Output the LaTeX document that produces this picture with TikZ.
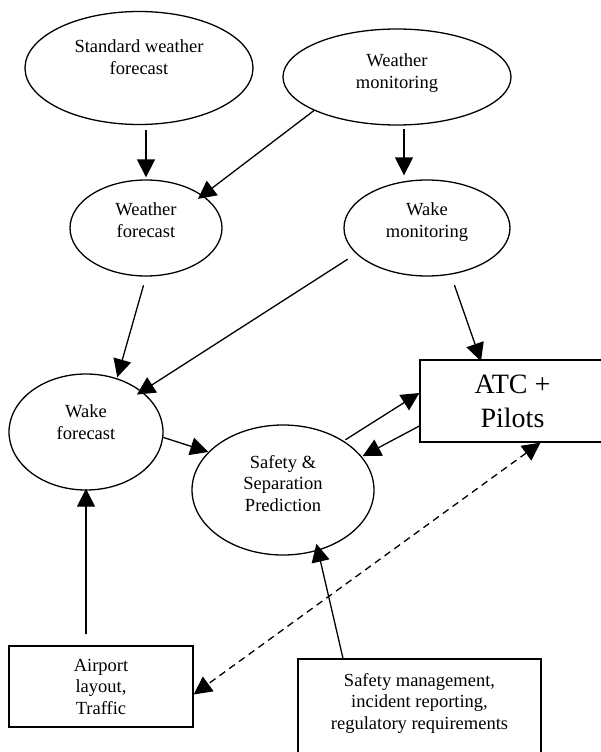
\documentclass[tikz,border=0pt]{standalone}
\usepackage{fontspec}
\setmainfont{Liberation Serif}
\usetikzlibrary{arrows.meta, positioning, shapes.geometric}

\tikzset{
  oval/.style={draw, ellipse, line width=1.3pt, align=center, inner sep=0pt},
  box/.style={draw, rectangle, line width=1.3pt, align=center, inner sep=0pt},
  arr/.style={-{Triangle[length=18pt,width=18pt]}, line width=1.3pt},
  darr/.style={{Triangle[length=18pt,width=18pt]}-{Triangle[length=18pt,width=18pt]}, line width=1.3pt, dash pattern=on 7pt off 5pt}
}

\begin{document}
\begin{tikzpicture}[x=1pt, y=-1pt, font=\fontsize{18.5}{21.5}\selectfont]
  \useasboundingbox (0,0) rectangle (601,752);
  \clip (0,0) rectangle (601,752);

  % forecasts and monitoring
  \node[oval, minimum width=228pt, minimum height=113pt, text depth=22pt] (swf) at (139,68) {Standard weather\\forecast};
  \node[oval, minimum width=228pt, minimum height=96pt, text depth=12pt] (wmon) at (397,77) {Weather\\monitoring};
  \node[oval, minimum width=152pt, minimum height=96pt, text depth=16pt] (wfc) at (146,228) {Weather\\forecast};
  \node[oval, minimum width=166pt, minimum height=96pt, text depth=16pt] (wkmon) at (427,228) {Wake\\monitoring};
  \node[oval, minimum width=154pt, minimum height=116pt, text depth=20pt] (wkfc) at (86,432) {Wake\\forecast};
  \node[oval, minimum width=182pt, minimum height=130pt, text depth=14pt] (ssp) at (283,490) {Safety \&\\Separation\\Prediction};

  % boxes
  \node[box, minimum width=185pt, minimum height=82pt, text depth=0pt, font=\fontsize{28}{34}\selectfont] (atc) at (512.5,401) {ATC +\\Pilots};
  \node[box, minimum width=184pt, minimum height=81pt] (apt) at (101,686.5) {Airport\\layout,\\Traffic};
  \node[box, minimum width=243pt, minimum height=121pt, text depth=37pt] (smgmt) at (419.5,719.5) {Safety management,\\incident reporting,\\regulatory requirements};

  % connectors
  \draw[arr, shorten <=5pt, shorten >=2pt] (swf.south -| wfc.north) -- (wfc.north);
  \draw[arr, shorten >=-6pt] (wmon.202) -- (wfc.30);
  \draw[arr, shorten <=3pt, shorten >=4pt] ([xshift=7pt]wmon.south) -- ([xshift=7pt]wmon.south |- wkmon.north);
  \draw[arr, shorten <=9pt, shorten >=1pt] (wfc.south) -- (wkfc.60);
  \draw[arr, shorten <=10pt, shorten >=-6pt] (wkmon.200) -- (wkfc.36);
  \draw[arr, shorten <=11pt, shorten >=-2pt] (wkmon.297) -- ([xshift=61pt]atc.north west);
  \draw[arr] (wkfc.-4) -- (ssp.153);
  \draw[arr, shorten <=2pt] (ssp.39) -- ([yshift=8pt]atc.west);
  \draw[arr, shorten >=1pt] ([yshift=-25pt]atc.west) -- (ssp.23);
  \draw[darr] ([xshift=28pt]atc.south) -- ([yshift=-8pt]apt.east);
  \draw[arr, shorten <=11pt, shorten >=-2pt] (apt.north -| wkfc.south) -- (wkfc.south);
  \draw[arr, shorten >=-7pt] ([xshift=-76.5pt]smgmt.north) -- (ssp.300);
\end{tikzpicture}
\end{document}
